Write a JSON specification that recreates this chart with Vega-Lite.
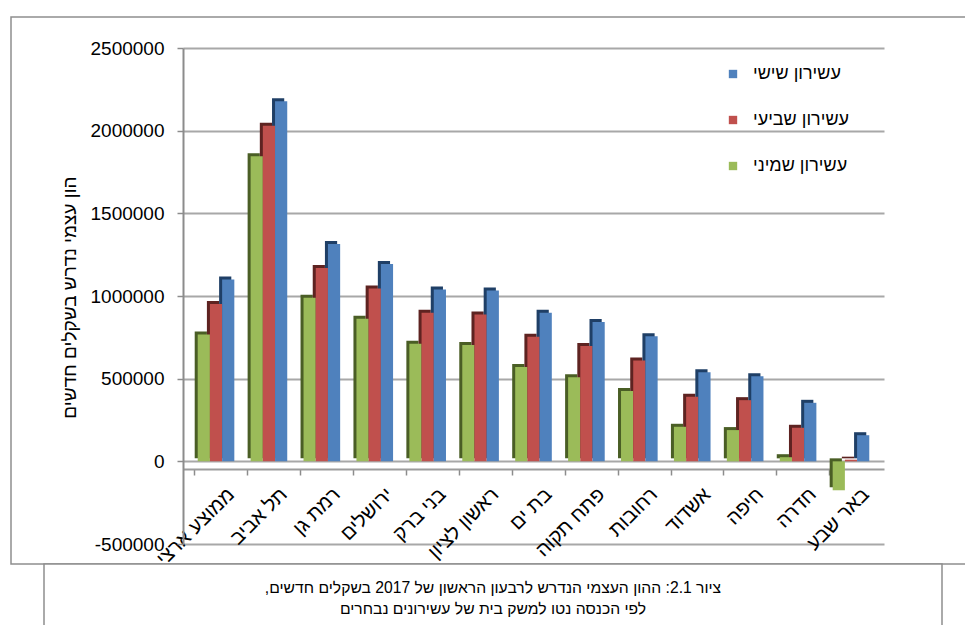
{
  "$schema": "https://vega.github.io/schema/vega-lite/v6.json",
  "background": "white",
  "padding": {"left": 10, "top": 16, "right": 0, "bottom": 0},
  "bounds": "flush",
  "center": true,
  "spacing": 0,
  "config": {
    "font": "Liberation Sans",
    "axis": {"labelFont": "Liberation Sans", "titleFont": "Liberation Sans"},
    "legend": {"labelFont": "Liberation Sans"}
  },
  "vconcat": [
    {
      "width": 964,
      "height": 547,
      "view": {"stroke": "#8e8e8e", "strokeWidth": 1.5, "fill": "white"},
      "data": {
        "values": [
          {"city": "ממוצע ארצי", "series": "עשירון שמיני", "value": 767000},
          {"city": "ממוצע ארצי", "series": "עשירון שביעי", "value": 952000},
          {"city": "ממוצע ארצי", "series": "עשירון שישי", "value": 1100000},
          {"city": "תל אביב", "series": "עשירון שמיני", "value": 1845000},
          {"city": "תל אביב", "series": "עשירון שביעי", "value": 2030000},
          {"city": "תל אביב", "series": "עשירון שישי", "value": 2178000},
          {"city": "רמת גן", "series": "עשירון שמיני", "value": 989000},
          {"city": "רמת גן", "series": "עשירון שביעי", "value": 1170000},
          {"city": "רמת גן", "series": "עשירון שישי", "value": 1315000},
          {"city": "ירושלים", "series": "עשירון שמיני", "value": 863000},
          {"city": "ירושלים", "series": "עשירון שביעי", "value": 1045000},
          {"city": "ירושלים", "series": "עשירון שישי", "value": 1194000},
          {"city": "בני ברק", "series": "עשירון שמיני", "value": 711000},
          {"city": "בני ברק", "series": "עשירון שביעי", "value": 898000},
          {"city": "בני ברק", "series": "עשירון שישי", "value": 1039000},
          {"city": "ראשון לציון", "series": "עשירון שמיני", "value": 703000},
          {"city": "ראשון לציון", "series": "עשירון שביעי", "value": 888000},
          {"city": "ראשון לציון", "series": "עשירון שישי", "value": 1033000},
          {"city": "בת ים", "series": "עשירון שמיני", "value": 570000},
          {"city": "בת ים", "series": "עשירון שביעי", "value": 753000},
          {"city": "בת ים", "series": "עשירון שישי", "value": 898000},
          {"city": "פתח תקוה", "series": "עשירון שמיני", "value": 509000},
          {"city": "פתח תקוה", "series": "עשירון שביעי", "value": 697000},
          {"city": "פתח תקוה", "series": "עשירון שישי", "value": 842000},
          {"city": "רחובות", "series": "עשירון שמיני", "value": 425000},
          {"city": "רחובות", "series": "עשירון שביעי", "value": 610000},
          {"city": "רחובות", "series": "עשירון שישי", "value": 757000},
          {"city": "אשדוד", "series": "עשירון שמיני", "value": 209000},
          {"city": "אשדוד", "series": "עשירון שביעי", "value": 390000},
          {"city": "אשדוד", "series": "עשירון שישי", "value": 539000},
          {"city": "חיפה", "series": "עשירון שמיני", "value": 189000},
          {"city": "חיפה", "series": "עשירון שביעי", "value": 370000},
          {"city": "חיפה", "series": "עשירון שישי", "value": 515000},
          {"city": "חדרה", "series": "עשירון שמיני", "value": 25000},
          {"city": "חדרה", "series": "עשירון שביעי", "value": 203000},
          {"city": "חדרה", "series": "עשירון שישי", "value": 354000},
          {"city": "באר שבע", "series": "עשירון שמיני", "value": -175000},
          {"city": "באר שבע", "series": "עשירון שביעי", "value": 10000},
          {"city": "באר שבע", "series": "עשירון שישי", "value": 158000}
        ]
      },
      "encoding": {
        "x": {
          "field": "city",
          "type": "nominal",
          "sort": null,
          "scale": {"range": [172, 873], "paddingInner": 0.308, "paddingOuter": 0.278},
          "axis": {
            "title": null,
            "offset": -95,
            "grid": false,
            "bandPosition": 0,
            "tickOffset": -3.4,
            "labelOffset": 18,
            "labelAngle": -45,
            "labelAlign": "right",
            "labelBaseline": "middle",
            "labelPadding": 16,
            "labelFontSize": 20,
            "labelColor": "#000000",
            "labelOverlap": false,
            "tickSize": 6,
            "tickColor": "#8c8c8c",
            "tickWidth": 1.5,
            "domainColor": "#9c9c9c",
            "domainWidth": 2
          }
        },
        "y": {
          "field": "value",
          "type": "quantitative",
          "scale": {"domain": [-500000, 2500000], "range": [527, 31], "nice": false, "zero": false},
          "axis": {
            "title": "הון  עצמי נדרש בשקלים חדשים",
            "offset": -172,
            "values": [-500000, 0, 500000, 1000000, 1500000, 2000000, 2500000],
            "labelExpr": "'' + datum.value",
            "labelFontSize": 19,
            "labelColor": "#000000",
            "labelPadding": 13,
            "tickSize": 6,
            "tickColor": "#8c8c8c",
            "tickWidth": 1.5,
            "domainColor": "#8c8c8c",
            "domainWidth": 2,
            "grid": true,
            "gridColor": "#a8a8a8",
            "gridWidth": 2,
            "titleFontSize": 19,
            "titleFontWeight": "normal",
            "titleColor": "#000000",
            "titleAngle": -90,
            "titleX": -114,
            "titleY": 280,
            "titleAlign": "center",
            "titleBaseline": "middle"
          }
        }
      },
      "layer": [
        {
          "mark": {"type": "bar", "yOffset": -3},
          "encoding": {
            "xOffset": {
              "field": "series",
              "type": "nominal",
              "sort": ["עשירון שמיני", "עשירון שביעי", "עשירון שישי"],
              "scale": {"range": [-3, 33.6]}
            },
            "color": {
              "field": "series",
              "type": "nominal",
              "scale": {
                "domain": ["עשירון שישי", "עשירון שביעי", "עשירון שמיני"],
                "range": ["#1f3f66", "#5e2321", "#4a5e25"]
              },
              "legend": null
            }
          }
        },
        {
          "mark": {"type": "bar"},
          "encoding": {
            "xOffset": {
              "field": "series",
              "type": "nominal",
              "sort": ["עשירון שמיני", "עשירון שביעי", "עשירון שישי"]
            },
            "color": {
              "field": "series",
              "type": "nominal",
              "scale": {
                "domain": ["עשירון שישי", "עשירון שביעי", "עשירון שמיני"],
                "range": ["#4f81bd", "#c0504d", "#9bbb59"]
              },
              "legend": {
                "title": null,
                "orient": "none",
                "legendX": 713,
                "legendY": 48,
                "symbolType": "square",
                "symbolSize": 70,
                "symbolStrokeWidth": 0,
                "labelFontSize": 18,
                "labelColor": "#000000",
                "labelOffset": 11,
                "rowPadding": 28
              }
            }
          }
        }
      ],
      "resolve": {"scale": {"color": "independent", "xOffset": "independent"}}
    },
    {
      "width": 898,
      "height": 70,
      "view": {"stroke": "#8e8e8e", "strokeWidth": 1.5, "fill": "white"},
      "data": {
        "values": [
          {"line": 1, "text": "ציור 2.1: ההון העצמי הנדרש לרבעון הראשון של 2017 בשקלים חדשים,‏"},
          {"line": 2, "text": "לפי הכנסה נטו למשק בית של עשירונים נבחרים"}
        ]
      },
      "mark": {"type": "text", "align": "center", "baseline": "middle", "fontSize": 15.7, "color": "#000000"},
      "encoding": {
        "y": {"field": "line", "type": "quantitative", "scale": {"domain": [1, 2], "range": [24, 45]}, "axis": null},
        "text": {"field": "text", "type": "nominal"}
      }
    }
  ]
}
